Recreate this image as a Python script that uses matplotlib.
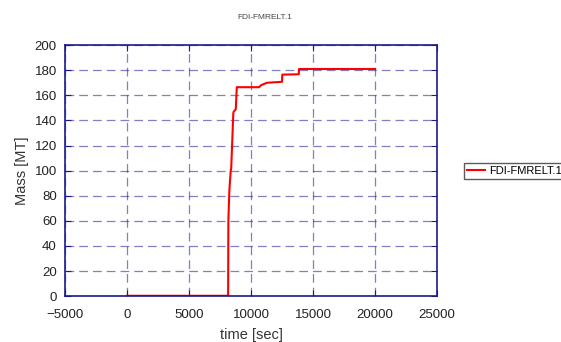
import matplotlib
matplotlib.use("Agg")
import matplotlib.pyplot as plt

# Data
time_sec = [0, 8150, 8170, 8250, 8360, 8400, 8490, 8570, 8600, 8770, 8850,
            10650, 10800, 11270, 12500, 12520, 13850, 13870, 20000]
mass_mt = [0.3, 0.3, 60, 84, 100, 102, 125, 146, 147, 149, 166.5,
           166.5, 168, 170, 170.8, 176.5, 176.8, 181, 181]

xticks = [-5000, 0, 5000, 10000, 15000, 20000, 25000]
yticks = list(range(0, 201, 20))

navy = "#1a1a8c"
plt.rcParams["font.family"] = ["Liberation Sans", "DejaVu Sans"]

fig = plt.figure(figsize=(5.61, 3.42), dpi=100)
ax = fig.add_axes([0.116, 0.134, 0.663, 0.734])

ax.plot(time_sec, mass_mt, color="red", lw=1.5, label="FDI-FMRELT.1")

ax.set_xlim(-5000, 25000)
ax.set_ylim(0, 200)
ax.set_xticks(xticks)
ax.set_yticks(yticks)
ax.grid(True, color=navy, ls=(0, (7, 4)), lw=0.9, alpha=0.55)
for s in ax.spines.values():
    s.set_color(navy)
    s.set_linewidth(1.2)
ax.tick_params(direction="in", colors=navy, labelcolor="#222222",
               top=True, right=True, labelsize=9.5, length=4)
ax.tick_params(axis="x", pad=9)
ax.tick_params(axis="y", pad=6)

ax.set_xlabel("time [sec]", fontsize=10.5, color="#333333", labelpad=5)
ax.set_ylabel("Mass [MT]", fontsize=10.5, color="#333333", labelpad=4)
fig.text(0.472, 0.945, "FDI-FMRELT.1", fontsize=6, color="#444444", ha="center")

fig.legend(loc="center left", bbox_to_anchor=(0.818, 0.5), fontsize=8,
           frameon=True, fancybox=False, edgecolor="#333333", handlelength=1.6,
           borderpad=0.25, handletextpad=0.4)

plt.savefig("out.png", dpi=100)
plt.close()
